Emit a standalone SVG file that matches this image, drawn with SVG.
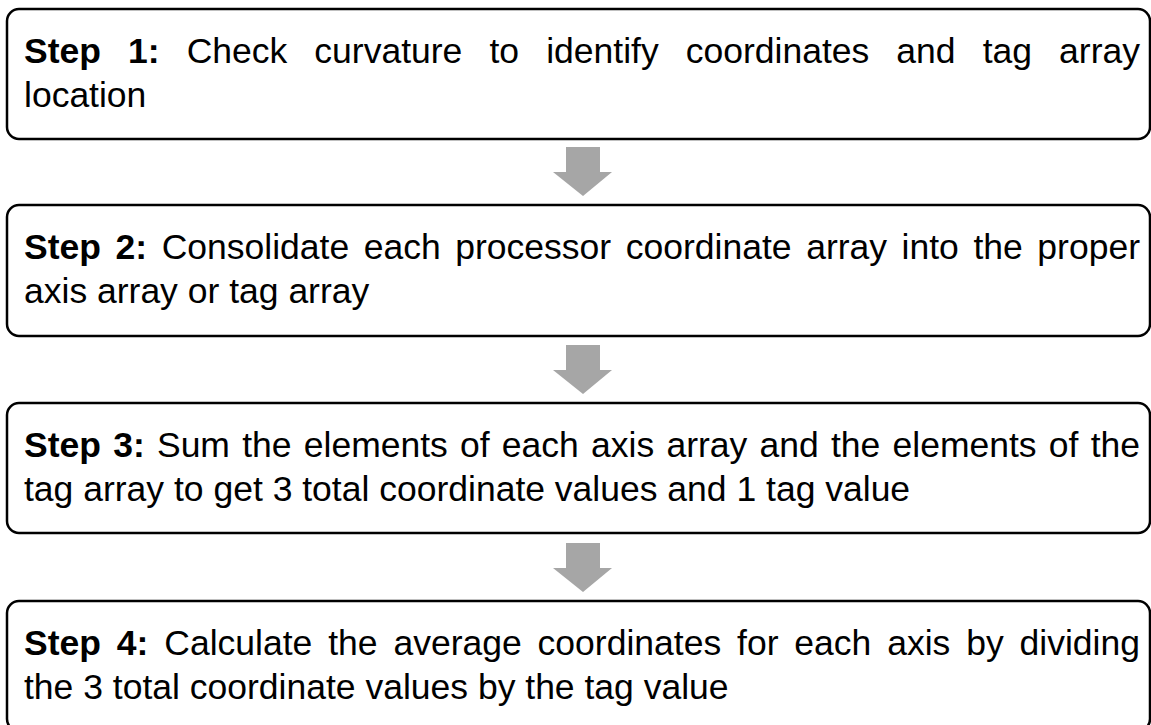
<svg xmlns="http://www.w3.org/2000/svg" width="1151" height="725" viewBox="0 0 1151 725">
<style>
.box{fill:#ffffff;stroke:#000000;stroke-width:2.5}
.t{font-family:"Liberation Sans",Arial,sans-serif;font-size:35.5px;fill:#000000}
.b{font-weight:bold}
.arrow{fill:#a6a6a6}
</style>
<rect width="1151" height="725" fill="#ffffff"/>
<g id="connectors">
<polygon class="arrow" points="566,147 600,147 600,172 612,172 583,196 553,172 566,172"/>
<polygon class="arrow" points="566,345 600,345 600,370 612,370 583,394 553,370 566,370"/>
<polygon class="arrow" points="566,543 600,543 600,568 612,568 583,592 553,568 566,568"/>
</g>
<g id="step1">
<rect class="box" x="7" y="9" width="1143" height="130" rx="12"/>
<text class="t" x="24" y="63" word-spacing="17.2" textLength="1116" lengthAdjust="spacing"><tspan class="b">Step 1:</tspan> Check curvature to identify coordinates and tag array</text>
<text class="t" x="24" y="107">location</text>
</g>
<g id="step2">
<rect class="box" x="7" y="205" width="1143" height="131" rx="12"/>
<text class="t" x="24" y="259" word-spacing="4.7" textLength="1116" lengthAdjust="spacing"><tspan class="b">Step 2:</tspan> Consolidate each processor coordinate array into the proper</text>
<text class="t" x="24" y="303">axis array or tag array</text>
</g>
<g id="step3">
<rect class="box" x="7" y="403" width="1143" height="130" rx="12"/>
<text class="t" x="24" y="457" word-spacing="2.4" textLength="1116" lengthAdjust="spacing"><tspan class="b">Step 3:</tspan> Sum the elements of each axis array and the elements of the</text>
<text class="t" x="24" y="501">tag array to get 3 total coordinate values and 1 tag value</text>
</g>
<g id="step4">
<rect class="box" x="7" y="601" width="1143" height="130" rx="12"/>
<text class="t" x="24" y="655" word-spacing="6.0" textLength="1116" lengthAdjust="spacing"><tspan class="b">Step 4:</tspan> Calculate the average coordinates for each axis by dividing</text>
<text class="t" x="24" y="699">the 3 total coordinate values by the tag value</text>
</g>
</svg>
